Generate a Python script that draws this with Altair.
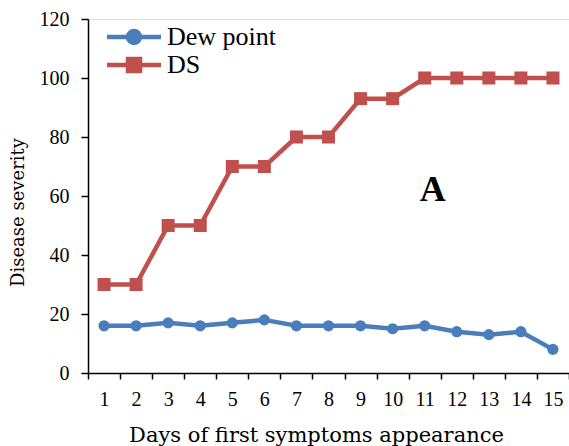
import altair as alt
import pandas as pd

days = [str(d) for d in range(1, 16)]
dew_point = [16, 16, 17, 16, 17, 18, 16, 16, 16, 15, 16, 14, 13, 14, 8]
ds = [30, 30, 50, 50, 70, 70, 80, 80, 93, 93, 100, 100, 100, 100, 100]
series_names = ["Dew point", "DS"]
series_colors = ["#4A7EBB", "#C0504D"]
y_ticks = [0, 20, 40, 60, 80, 100, 120]

rows = []
for d, v in zip(days, dew_point):
    rows.append({"day": d, "value": v, "series": "Dew point"})
for d, v in zip(days, ds):
    rows.append({"day": d, "value": v, "series": "DS"})
df = pd.DataFrame(rows)

serif = "Liberation Serif"
title_font = "DejaVu Serif"

x_enc = alt.X(
    "day:O",
    sort=days,
    scale=alt.Scale(paddingInner=0, paddingOuter=0),
    axis=alt.Axis(
        title="Days of first symptoms appearance",
        labelAngle=0,
        tickBand="extent",
        labelFont=serif,
        labelFontSize=20,
        labelColor="black",
        labelPadding=10,
        tickColor="black",
        tickSize=6,
        domainColor="black",
        domainWidth=1.5,
        tickWidth=1.5,
        titleFont=title_font,
        titleFontSize=21,
        titleFontWeight="normal",
        titleColor="black",
        titlePadding=15,
        titleX=228,
    ),
)
y_enc = alt.Y(
    "value:Q",
    scale=alt.Scale(domain=[0, 120], nice=False, zero=True),
    axis=alt.Axis(
        title="Disease severity",
        values=y_ticks,
        grid=False,
        labelFont=serif,
        labelFontSize=20,
        labelColor="black",
        labelPadding=12,
        tickColor="black",
        tickSize=7,
        domainColor="black",
        domainWidth=1.5,
        tickWidth=1.5,
        titleFont=title_font,
        titleFontSize=18,
        titleFontWeight="normal",
        titleColor="black",
        titlePadding=12,
        titleY=193,
    ),
)

base = alt.Chart(df)

layers = []
for name, col, shp, sz in zip(series_names, series_colors, ["circle", "square"], [125, 170]):
    sub = base.transform_filter(alt.datum.series == name)
    layers.append(sub.mark_line(strokeWidth=4.5, color=col).encode(x=x_enc, y=y_enc))
    layers.append(
        sub.mark_point(filled=True, opacity=1, size=sz, shape=shp, color=col).encode(
            x=x_enc, y=y_enc
        )
    )

legend_paths = [
    "M-2.7,0L2.7,0M0.6,0A0.6,0.6,0,1,1,-0.6,0A0.6,0.6,0,1,1,0.6,0Z",
    "M-2.7,0L2.7,0M-0.6,-0.6L0.6,-0.6L0.6,0.6L-0.6,0.6Z",
]
leg = alt.Legend(
    title=None,
    orient="none",
    legendX=33,
    legendY=5,
    padding=0,
    symbolSize=400,
    symbolStrokeWidth=4.5,
    symbolOpacity=1,
    labelFont=serif,
    labelFontSize=26,
    labelColor="black",
    labelOffset=20,
    rowPadding=-3,
)
legend_scale = alt.Scale(domain=series_names, range=series_colors)
legend_layer = base.mark_point(size=0, strokeWidth=4.5).encode(
    x=x_enc,
    y=y_enc,
    fill=alt.Fill("series:N", scale=legend_scale, legend=leg),
    stroke=alt.Stroke("series:N", scale=legend_scale, legend=leg),
    shape=alt.Shape(
        "series:N",
        scale=alt.Scale(domain=series_names, range=legend_paths),
        legend=leg,
    ),
)
layers.append(legend_layer)

label_df = pd.DataFrame({"day": ["11"], "value": [62], "label": ["A"]})
label = alt.Chart(label_df).mark_text(
    font=serif, fontSize=36, fontWeight="bold", color="black",
    baseline="middle", align="center", dx=8,
).encode(x=alt.X("day:O", sort=days), y="value:Q", text="label:N")
layers.append(label)

chart = (
    alt.layer(*layers)
    .properties(
        width=481,
        height=354,
        autosize=alt.AutoSizeParams(type="none"),
        padding={"left": 88, "top": 19, "right": 0, "bottom": 73},
    )
    .configure_view(stroke=None)
    .configure(background="white")
)

chart.save("out.html", embed_options={"renderer": "svg", "actions": False})
